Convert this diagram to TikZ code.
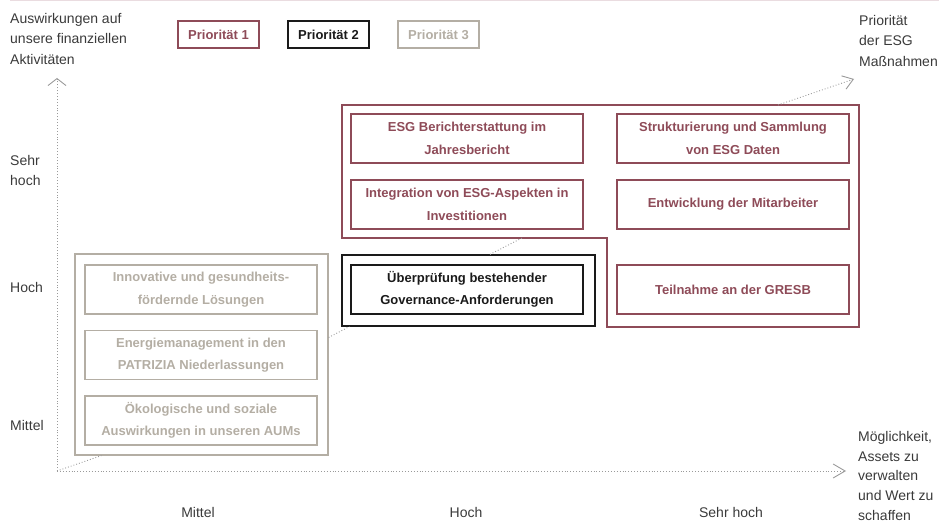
\documentclass[tikz,border=0pt]{standalone}
\usepackage{fontspec}
\setmainfont{Liberation Sans}
\usetikzlibrary{arrows.meta}
\definecolor{prioA}{HTML}{8E4B58}
\definecolor{prioB}{HTML}{1A1A1A}
\definecolor{prioC}{HTML}{B4AEA4}
\definecolor{axisgray}{HTML}{9A9A9A}
\definecolor{rulepink}{HTML}{EADCE0}
\definecolor{labelgray}{HTML}{3A3A3A}
\begin{document}
\begin{tikzpicture}[x=1pt, y=-1pt,
  axislabel/.style={align=left, anchor=north west, inner sep=0pt, text=labelgray, font=\fontsize{14}{20.5}\selectfont},
  ticklabel/.style={anchor=north, inner sep=0pt, text=labelgray, font=\fontsize{14}{20}\selectfont},
  legendbox/.style={draw, line width=1.2pt, minimum width=81pt, minimum height=27pt, inner sep=0pt, font=\fontsize{13}{16}\selectfont\bfseries},
  massnahme/.style={draw, line width=1.2pt, minimum width=232pt, minimum height=49pt, inner sep=0pt, align=center, font=\fontsize{13}{22.5}\selectfont\bfseries},
  prioframe/.style={draw, line width=1.2pt, minimum width=253pt, inner sep=0pt},
  axisline/.style={axisgray, dotted, line width=0.9pt}
]

\useasboundingbox (0,0) rectangle (939,526);

\draw[rulepink, line width=1.5pt] (10,0.75) -- (939,0.75);

\node[axislabel] (yname) at (10,13) {Auswirkungen auf\\unsere finanziellen\\Aktivitäten};
\node[axislabel] (zname) at (859,15) {Priorität\\der ESG\\Maßnahmen};
\node[axislabel, font=\fontsize{14}{19.8}\selectfont] (xname) at (858,431) {Möglichkeit,\\Assets zu\\verwalten\\und Wert zu\\schaffen};

\node[axislabel] (ysehrhoch) at (10,155) {Sehr\\hoch};
\node[axislabel] (yhoch) at (10,282) {Hoch};
\node[axislabel] (ymittel) at (10,420) {Mittel};

\node[ticklabel] (xmittel) at (198,507) {Mittel};
\node[ticklabel] (xhoch) at (466,507) {Hoch};
\node[ticklabel] (xsehrhoch) at (731,507) {Sehr hoch};

\node[legendbox, prioA] (prio1) at (218.5,34.5) {Priorität 1};
\node[legendbox, prioB] (prio2) at (328.5,34.5) {Priorität 2};
\node[legendbox, prioC] (prio3) at (438.5,34.5) {Priorität 3};

\node[prioframe, prioC, minimum height=201pt] (frame3) at (201.5,354.5) {};
\node[prioframe, prioB, minimum height=71pt] (frame2) at (468.5,290.5) {};

\coordinate (m1) at (342,105);
\coordinate (m2) at (859,105);
\coordinate (m3) at (859,327);
\coordinate (m4) at (607,327);
\coordinate (m5) at (607,238);
\coordinate (m6) at (342,238);
\draw[prioA, line width=1.2pt] (m1) -- (m2) -- (m3) -- (m4) -- (m5) -- (m6) -- cycle;

\node[massnahme, prioA] (bericht) at (467,138.5) {ESG Berichterstattung im\\Jahresbericht};
\node[massnahme, prioA] (integration) at (467,204.5) {Integration von ESG-Aspekten in\\Investitionen};
\node[massnahme, prioA] (daten) at (733,138.5) {Strukturierung und Sammlung\\von ESG Daten};
\node[massnahme, prioA] (mitarbeiter) at (733,204.5) {Entwicklung der Mitarbeiter};
\node[massnahme, prioA] (gresb) at (733,289.5) {Teilnahme an der GRESB};

\node[massnahme, prioB] (governance) at (467,289.5) {Überprüfung bestehender\\Governance-Anforderungen};

\node[massnahme, prioC] (innovativ) at (201,289.5) {Innovative und gesundheits-\\fördernde Lösungen};
\node[massnahme, prioC] (energie) at (201,355) {Energiemanagement in den\\PATRIZIA Niederlassungen};
\node[massnahme, prioC] (aums) at (201,420.5) {Ökologische und soziale\\Auswirkungen in unseren AUMs};

\coordinate (origin) at (57,471);
\coordinate (ytip) at (57,78);
\coordinate (xtip) at (846,471);
\coordinate (ztip) at (854,79);

\draw[axisline, -{Straight Barb[length=7pt,width=18pt,line width=0.9pt]}] (origin) -- (ytip);
\draw[axisline, -{Straight Barb[length=12pt,width=14pt,line width=0.9pt]}] (origin) -- (xtip);

\draw[axisline] (origin) -- ([xshift=27pt]frame3.south west);
\draw[axisline] ([yshift=17pt]frame3.east) -- ([xshift=8pt]frame2.south west);
\draw[axisline] ([xshift=21.5pt]frame2.north) -- ([xshift=180pt]m6);
\draw[axisline, -{Straight Barb[length=10pt,width=14pt,line width=0.9pt]}] ([xshift=-81pt]m2) -- (ztip);

\end{tikzpicture}
\end{document}
